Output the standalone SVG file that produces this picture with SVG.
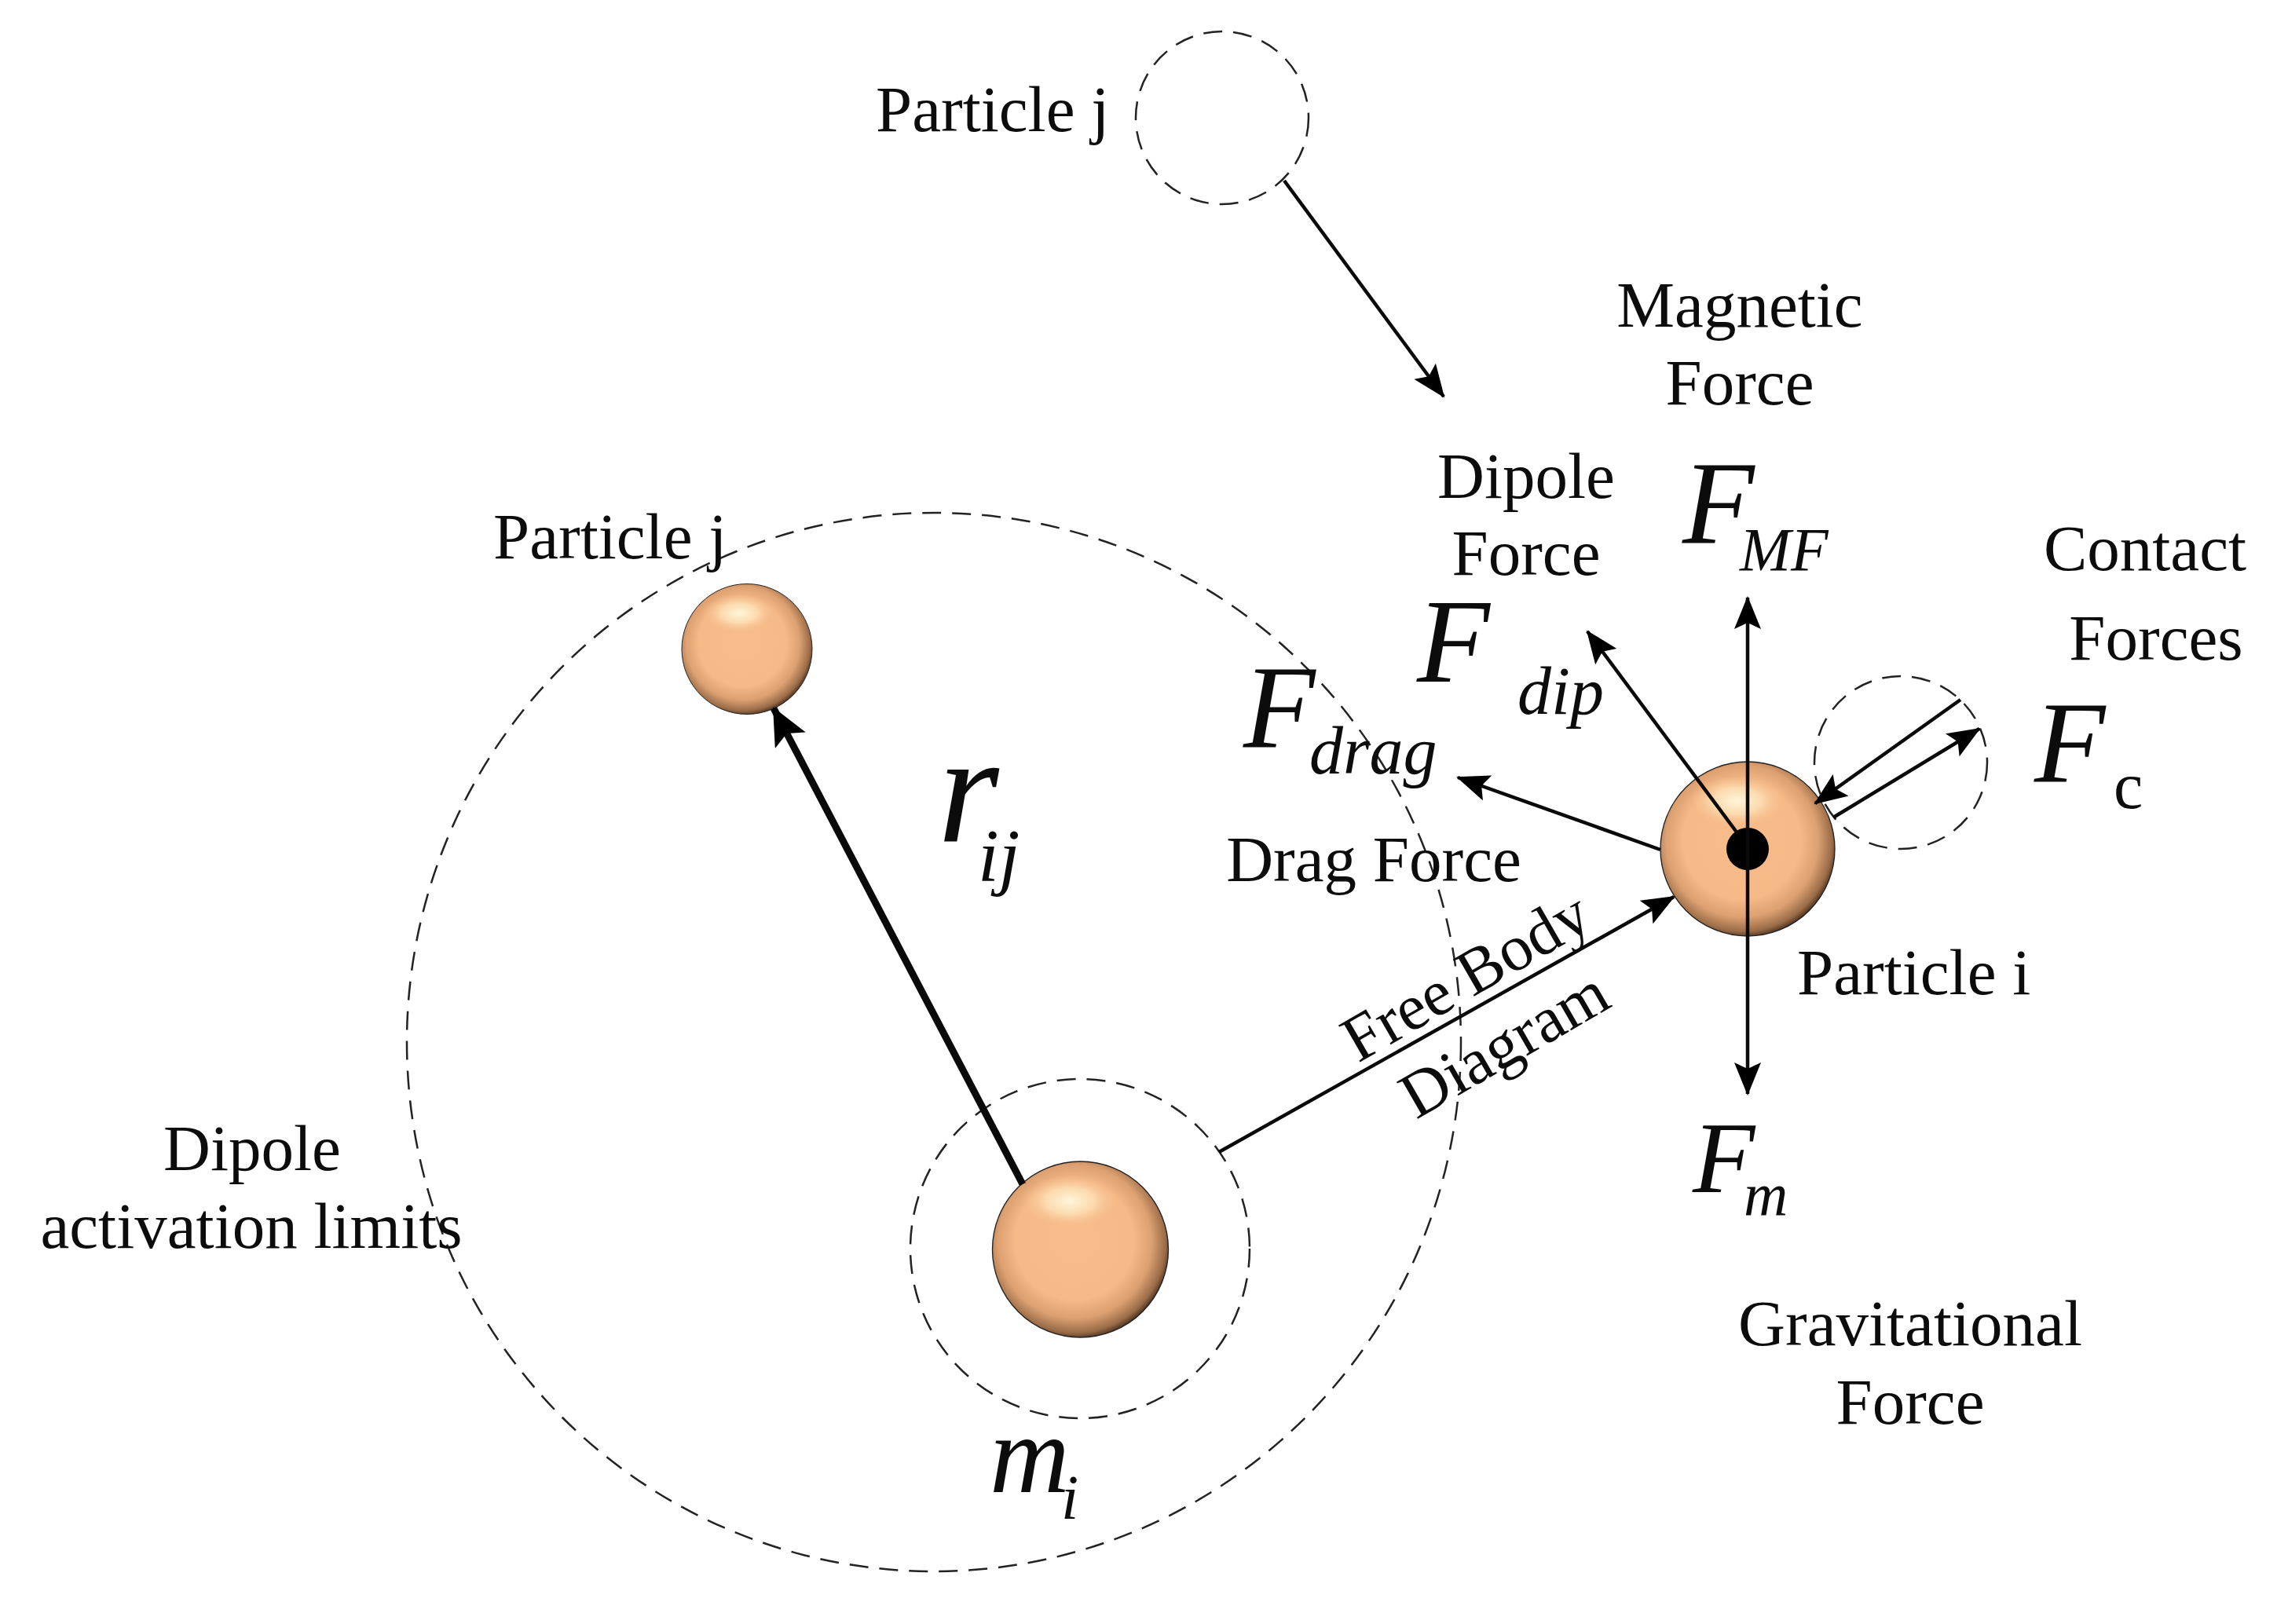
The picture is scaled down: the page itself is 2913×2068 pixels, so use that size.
<svg xmlns="http://www.w3.org/2000/svg" width="2913" height="2068" viewBox="0 0 2913 2068">
<style>
text{font-family:"Liberation Serif","Times New Roman",serif;fill:#0c0c0c}
.l{font-size:83px}
.m{text-anchor:middle}
.i{font-style:italic}
.d{fill:none;stroke:#222;stroke-width:2.5;stroke-dasharray:24 14}
.c{stroke:#0a0a0a;stroke-width:4.500;fill:none;marker-end:url(#a)}
</style>
<defs>
<marker id="a" markerUnits="userSpaceOnUse" markerWidth="42" markerHeight="34" refX="40" refY="17" orient="auto"><path d="M0 0L42 17L0 34L8 17Z" fill="#000"/></marker>
<marker id="b" markerUnits="userSpaceOnUse" markerWidth="48" markerHeight="44" refX="46" refY="22" orient="auto"><path d="M0 0L48 22L0 44L10 22Z" fill="#000"/></marker>
<radialGradient id="s" cx="0.47" cy="0.46" r="0.56" fx="0.46" fy="0.44">
<stop offset="0" stop-color="#f8bd8b"/><stop offset="0.6" stop-color="#f6b988"/><stop offset="0.78" stop-color="#dca071"/><stop offset="0.92" stop-color="#9a6c48"/><stop offset="1" stop-color="#3a2414"/>
</radialGradient>
<radialGradient id="h"><stop offset="0" stop-color="#fff6dc"/><stop offset="0.5" stop-color="#fde3b9" stop-opacity="0.8"/><stop offset="1" stop-color="#f8bd8b" stop-opacity="0"/></radialGradient>
<g id="ball"><circle r="1" fill="url(#s)" stroke="#222" stroke-width="0.012"/><ellipse cx="-0.12" cy="-0.55" rx="0.55" ry="0.3" fill="url(#h)"/></g>
</defs>
<rect width="2913" height="2068" fill="#fff"/>
<g id="limits">
<ellipse class="d" cx="1189" cy="1327" rx="671" ry="674"/>
<circle class="d" cx="1375" cy="1590" r="216"/>
<circle class="d" cx="1556" cy="150" r="110"/>
<circle class="d" cx="2420" cy="971" r="110"/>
</g>
<g id="particle-m"><use href="#ball" transform="translate(1375.500,1591) scale(112)"/></g>
<g id="particle-j"><use href="#ball" transform="translate(951,826.500) scale(83)"/></g>
<g id="particle-i"><use href="#ball" transform="translate(2225,1081) scale(111)"/><circle cx="2225" cy="1081" r="27" fill="#000"/></g>
<g id="connectors">
<line class="c" x1="1635" y1="230" x2="1838" y2="505"/>
<line class="c" x1="1302" y1="1508" x2="985" y2="902" style="stroke-width:9;marker-end:url(#b)"/>
<line class="c" x1="1552" y1="1467" x2="2131" y2="1142"/>
<line class="c" x1="2225" y1="1081" x2="2225" y2="761"/>
<line class="c" x1="2225" y1="1081" x2="2225" y2="1393"/>
<line class="c" x1="2212" y1="1061" x2="2021" y2="804"/>
<line class="c" x1="2114" y1="1082" x2="1856" y2="990"/>
<line class="c" x1="2496" y1="891" x2="2311" y2="1023"/>
<line class="c" x1="2334" y1="1041" x2="2520" y2="928"/>
</g>
<g id="labels">
<text class="l" x="1115" y="167">Particle j</text>
<text class="l" x="628" y="711">Particle j</text>
<text class="l m" x="2215" y="416">Magnetic</text>
<text class="l m" x="2215" y="515">Force</text>
<text class="l m" x="1943" y="634">Dipole</text>
<text class="l m" x="1943" y="732">Force</text>
<text class="l m" x="2731" y="726">Contact</text>
<text class="l m" x="2745" y="840">Forces</text>
<text class="l m" x="1749" y="1122">Drag Force</text>
<text class="l" x="2288" y="1266">Particle i</text>
<text class="l" x="1729" y="1354" transform="rotate(-30 1729 1354)">Free Body</text>
<text class="l" x="1803" y="1426" transform="rotate(-30 1803 1426)">Diagram</text>
<text class="l m" x="321" y="1490">Dipole</text>
<text class="l m" x="320" y="1589">activation limits</text>
<text class="l m" x="2432" y="1713">Gravitational</text>
<text class="l m" x="2432" y="1813">Force</text>
<text class="i" x="1804" y="868" font-size="152">F</text>
<text class="i" x="1932" y="909" font-size="86">dip</text>
<text class="i" x="2142" y="691" font-size="150">F</text>
<text class="i" x="2215" y="726" font-size="78">MF</text>
<text class="i" x="1583" y="951" font-size="150">F</text>
<text class="i" x="1667" y="985" font-size="86">drag</text>
<text class="i" x="2590" y="996" font-size="148">F</text>
<text x="2691" y="1029" font-size="84">c</text>
<text class="i" x="2155" y="1518" font-size="130">F</text>
<text class="i" x="2220" y="1548" font-size="78">m</text>
<text class="i" x="1194" y="1072" font-size="200">r</text>
<text class="i" x="1245" y="1122" font-size="96">ij</text>
<text class="i" x="1260" y="1900" font-size="141">m</text>
<text class="i" x="1351" y="1934" font-size="80">i</text>
</g>
</svg>
